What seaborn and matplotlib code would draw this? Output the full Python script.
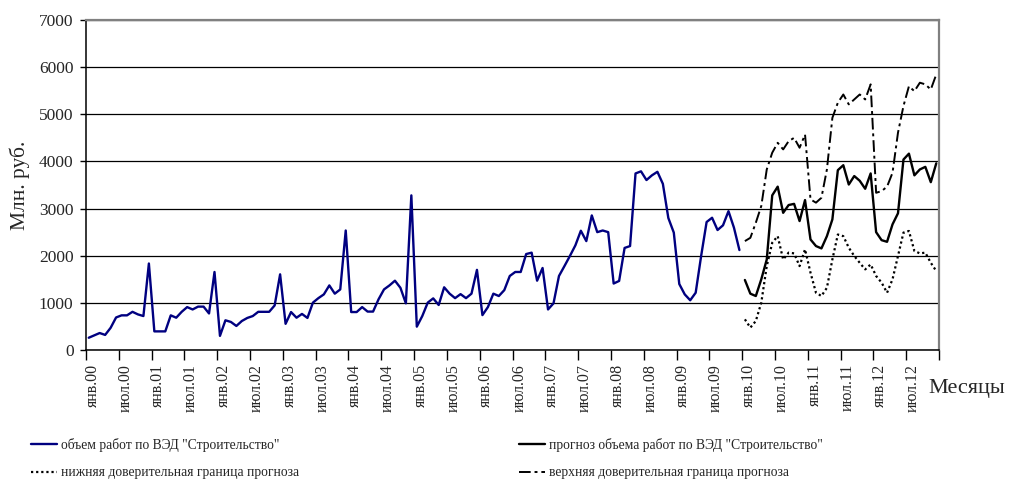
import numpy as np
import pandas as pd
import matplotlib
matplotlib.use("Agg")
import matplotlib.pyplot as plt
import matplotlib.transforms as mtransforms
from matplotlib.ticker import FixedLocator, MultipleLocator
import seaborn as sns

# Monthly volume of construction work, mln rub., Jan 2000 - Dec 2009
actual = [
    260, 310, 360, 320, 470, 690, 735, 735, 810, 755, 720, 1835,
    395, 395, 395, 735, 685, 810, 910, 860, 920, 920, 775, 1655,
    300, 630, 595, 510, 615, 680, 720, 810, 810, 810, 945, 1605,
    555, 805, 685, 765, 680, 1005, 1100, 1180, 1370, 1195, 1285, 2535,
    805, 805, 910, 815, 815, 1075, 1285, 1370, 1470, 1320, 990, 3280,
    495, 720, 1005, 1095, 955, 1330, 1195, 1100, 1185, 1100, 1195, 1700,
    740, 910, 1195, 1145, 1270, 1570, 1655, 1655, 2035, 2065, 1470, 1740,
    860, 990, 1570, 1780, 1995, 2220, 2530, 2310, 2855, 2500, 2535, 2500,
    1410, 1465, 2165, 2205, 3745, 3790, 3605, 3705, 3780, 3525, 2800, 2490,
    1400, 1180, 1055, 1215, 1995, 2715, 2805, 2545, 2645, 2945, 2595, 2120,
]

# Forecast, Jan 2010 - Dec 2012
forecast = [
    1485, 1195, 1145, 1500, 1920, 3280, 3465, 2910, 3075, 3100, 2735, 3180,
    2345, 2205, 2155, 2415, 2770, 3815, 3920, 3510, 3690, 3590, 3420, 3745,
    2500, 2330, 2295, 2665, 2900, 4040, 4165, 3705, 3830, 3885, 3560, 3960,
]

# Lower confidence bound of the forecast
lower = [
    650, 475, 615, 1005, 1780, 2275, 2415, 1920, 2065, 2050, 1780, 2135,
    1640, 1215, 1145, 1320, 1920, 2450, 2415, 2170, 1995, 1850, 1710, 1815,
    1570, 1430, 1215, 1500, 1995, 2490, 2525, 2100, 2050, 2065, 1850, 1675,
]

# Upper confidence bound of the forecast
upper = [
    2310, 2380, 2700, 3055, 3830, 4185, 4395, 4255, 4430, 4500, 4290, 4570,
    3195, 3125, 3230, 3830, 4925, 5245, 5420, 5210, 5315, 5420, 5315, 5635,
    3335, 3370, 3465, 3760, 4610, 5175, 5595, 5490, 5670, 5635, 5525, 5845,
]

tick_labels = [
    "янв.00", "июл.00", "янв.01", "июл.01", "янв.02", "июл.02",
    "янв.03", "июл.03", "янв.04", "июл.04", "янв.05", "июл.05",
    "янв.06", "июл.06", "янв.07", "июл.07", "янв.08", "июл.08",
    "янв.09", "июл.09", "янв.10", "июл.10", "янв.11", "июл.11",
    "янв.12", "июл.12",
]

series_names = [
    'объем работ по ВЭД "Строительство"',
    'прогноз объема работ по ВЭД "Строительство"',
    "нижняя доверительная граница прогноза",
    "верхняя доверительная граница прогноза",
]

n_hist = len(actual)
n_fc = len(forecast)
hist_df = pd.DataFrame({"month": np.arange(n_hist), "value": actual})
fc_month = np.arange(n_hist, n_hist + n_fc)
fc_df = pd.DataFrame({"month": fc_month, "forecast": forecast,
                      "lower": lower, "upper": upper})

sns.set_theme(style="white")
plt.rcParams["font.family"] = ["Liberation Serif", "DejaVu Serif"]

fig = plt.figure(figsize=(10.13, 4.83), dpi=100)
ax = fig.add_axes([86 / 1013, 1 - 350 / 483, (939 - 86) / 1013, (350 - 20) / 483])

sns.lineplot(data=hist_df, x="month", y="value", ax=ax, color="#000080",
             linewidth=1.7, label=series_names[0])
sns.lineplot(data=fc_df, x="month", y="forecast", ax=ax, color="black",
             linewidth=1.7, label=series_names[1])
sns.lineplot(data=fc_df, x="month", y="lower", ax=ax, color="black",
             linewidth=1.6, linestyle=(0, (1, 1.3)), label=series_names[2])
sns.lineplot(data=fc_df, x="month", y="upper", ax=ax, color="black",
             linewidth=1.4, linestyle=(0, (6, 2, 1.5, 2)), label=series_names[3])

handles, labels = ax.get_legend_handles_labels()
ax.get_legend().remove()

n_total = n_hist + n_fc
ax.set_xlim(-0.5, n_total - 0.5)
ax.set_ylim(0, 7000)
ax.yaxis.set_major_locator(MultipleLocator(1000))
ax.set_xlabel("")
ax.set_ylabel("")

# category labels every six months, tick marks on month boundaries
ax.xaxis.set_major_locator(FixedLocator(np.arange(0, n_total, 6)))
ax.set_xticklabels(tick_labels, rotation=90, fontsize=11.5)
ax.xaxis.set_minor_locator(FixedLocator(np.arange(-0.5, n_total, 6)))
ax.tick_params(axis="x", which="major", length=0, pad=10)
ax.tick_params(axis="x", which="minor", length=7, width=1, color="black",
               direction="out", bottom=True)
ax.tick_params(axis="y", which="major", length=4, width=1, color="black",
               direction="out", left=True, labelsize=12.5, pad=5)
shift = mtransforms.ScaledTranslation(4 / 100, 0, fig.dpi_scale_trans)
for lbl in ax.get_xticklabels():
    lbl.set_transform(lbl.get_transform() + shift)

ax.grid(axis="y", color="black", linewidth=0.9)
ax.grid(axis="x", visible=False)
for side in ("left", "bottom"):
    ax.spines[side].set_color("black")
    ax.spines[side].set_linewidth(1.1)
for side in ("top", "right"):
    ax.spines[side].set_color("#808080")
    ax.spines[side].set_linewidth(1.6)
ax.set_facecolor("white")

fig.text(20 / 1013, 1 - 185 / 483, "Млн. руб.", rotation=90,
         ha="center", va="center", fontsize=15.5)
fig.text(1005 / 1013, 1 - 388 / 483, "Месяцы", ha="right", va="center",
         fontsize=16)

leg_kw = dict(frameon=False, fontsize=9.8, handlelength=1.9, handletextpad=0.3,
              labelspacing=1.05, borderpad=0, borderaxespad=0, loc="upper left")
leg1 = fig.legend([handles[0], handles[2]], [labels[0], labels[2]],
                  bbox_to_anchor=(31 / 1013, 1 - 438 / 483), **leg_kw)
leg2 = fig.legend([handles[1], handles[3]], [labels[1], labels[3]],
                  bbox_to_anchor=(519 / 1013, 1 - 438 / 483), **leg_kw)

fig.savefig("out.png", dpi=100)
